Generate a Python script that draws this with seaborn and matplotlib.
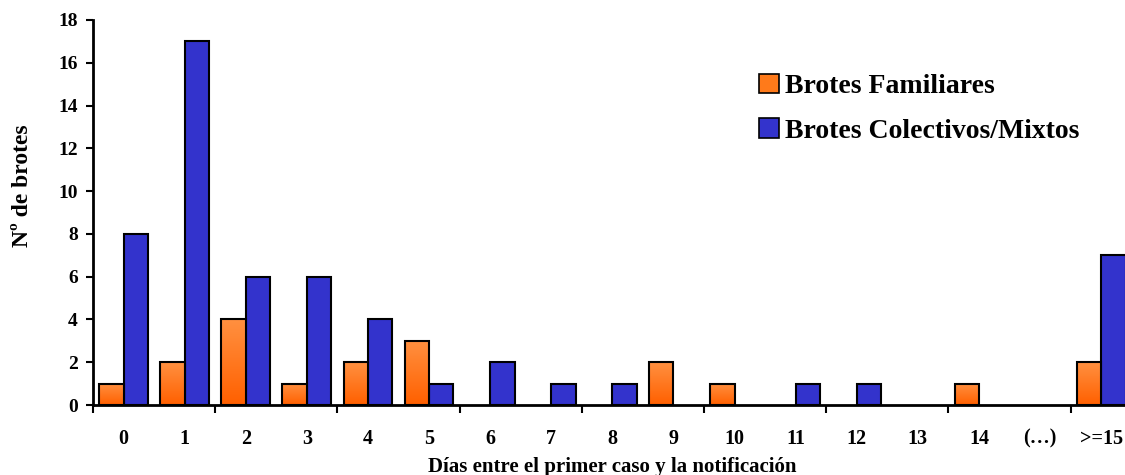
import numpy as np
import pandas as pd
import matplotlib
matplotlib.use("Agg")
import matplotlib.pyplot as plt
import seaborn as sns
from matplotlib.patches import Patch
from matplotlib.colors import LinearSegmentedColormap

categorias = ["0", "1", "2", "3", "4", "5", "6", "7", "8", "9", "10",
              "11", "12", "13", "14", "(\u2026)", ">=15"]
familiares = [1, 2, 4, 1, 2, 3, 0, 0, 0, 2, 1, 0, 0, 0, 1, 0, 2]
colectivos = [8, 17, 6, 6, 4, 1, 2, 1, 1, 0, 0, 1, 1, 0, 0, 0, 7]
series = ["Brotes Familiares", "Brotes Colectivos/Mixtos"]
y_ticks = [0, 2, 4, 6, 8, 10, 12, 14, 16, 18]

naranja = "#ff7a1a"
azul = "#3333cc"

df = pd.DataFrame({
    "dias": categorias * 2,
    "brotes": familiares + colectivos,
    "tipo": [series[0]] * len(categorias) + [series[1]] * len(categorias),
})

sns.set_style("white")
plt.rcParams["font.family"] = ["Liberation Serif", "DejaVu Serif"]
plt.rcParams["font.weight"] = "bold"
for k in ["text.color", "axes.labelcolor", "xtick.color", "ytick.color"]:
    plt.rcParams[k] = "black"

fig = plt.figure(figsize=(11.25, 4.75), dpi=100)
ax = fig.add_axes([93 / 1125, 70 / 475, 17 * 61.1 / 1125, 385 / 475])

sns.barplot(data=df, x="dias", y="brotes", hue="tipo", order=categorias,
            hue_order=series, palette=[naranja, azul], width=0.8,
            edgecolor="black", linewidth=1.5, saturation=1, ax=ax,
            legend=False)

# empty categories draw nothing
for cont in ax.containers:
    for bar in cont:
        if bar.get_height() <= 0:
            bar.set_visible(False)

# vertical gradient fill for the orange series
grad = LinearSegmentedColormap.from_list("nar", ["#ff9040", "#ff6000"])
img = np.linspace(0, 1, 64).reshape(-1, 1)
for bar in ax.containers[0]:
    x0, w, h = bar.get_x(), bar.get_width(), bar.get_height()
    if h <= 0:
        continue
    im = ax.imshow(img, cmap=grad, aspect="auto",
                   extent=[x0, x0 + w, 0, h], origin="upper", zorder=1.5)
    im.set_clip_path(bar)
    bar.set_facecolor("none")
    bar.set_zorder(2)

ax.set_xlim(-0.5, 16.5)
ax.set_ylim(0, 18)
ax.set_yticks(y_ticks)
ax.set_yticklabels([str(t) for t in y_ticks], fontsize=14, fontweight="bold")
ax.set_xticks(range(len(categorias)))
ax.set_xticklabels(categorias, fontsize=14.5, fontweight="bold")
ax.set_xticks(np.arange(-0.5, 16, 2), minor=True)
ax.tick_params(axis="x", which="major", length=0, pad=17)
ax.tick_params(axis="x", which="minor", length=6, width=1.5, color="black",
               direction="out", bottom=True)
ax.tick_params(axis="y", length=5, width=1.5, color="black", direction="out",
               left=True, pad=6)

for s in ["top", "right"]:
    ax.spines[s].set_visible(False)
for s in ["left", "bottom"]:
    ax.spines[s].set_color("black")
    ax.spines[s].set_linewidth(2)

ax.set_xlabel("D\u00edas entre el primer caso y la notificaci\u00f3n",
              fontsize=15, fontweight="bold", labelpad=6)
ax.set_ylabel("N\u00ba de brotes", fontsize=17, fontweight="bold")
ax.yaxis.set_label_coords(-0.058, 0.57)

handles = [Patch(facecolor=naranja, edgecolor="black", linewidth=1.2),
           Patch(facecolor=azul, edgecolor="black", linewidth=1.2)]
leg = fig.legend(handles, series, loc="upper left",
                 bbox_to_anchor=(759 / 1125, 1 - 74 / 475), frameon=False,
                 prop={"family": "Liberation Serif", "weight": "bold",
                       "size": 20},
                 handlelength=0.72, handleheight=0.7, handletextpad=0.2,
                 labelspacing=0.68, borderaxespad=0, borderpad=0)

fig.savefig("out.png", dpi=100)
